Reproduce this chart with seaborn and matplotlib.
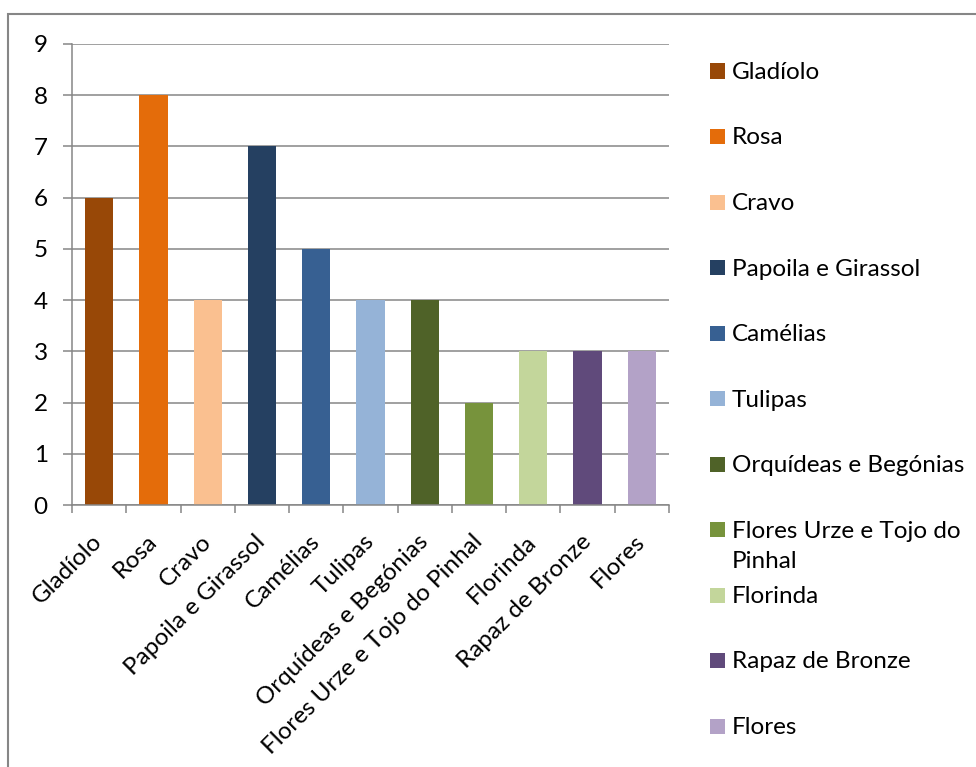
import matplotlib
matplotlib.use("Agg")
import matplotlib.pyplot as plt
import seaborn as sns
import numpy as np
import pandas as pd
from matplotlib.patches import Rectangle

categories = ["Gladíolo", "Rosa", "Cravo", "Papoila e Girassol", "Camélias", "Tulipas",
              "Orquídeas e Begónias", "Flores Urze e Tojo do Pinhal", "Florinda",
              "Rapaz de Bronze", "Flores"]
values = [6, 8, 4, 7, 5, 4, 4, 2, 3, 3, 3]
colors = ["#984807", "#E46C0A", "#FAC090", "#254061", "#376092", "#95B3D7",
          "#4F6228", "#77933C", "#C3D69B", "#604A7B", "#B3A2C7"]
legend_labels = ["Gladíolo", "Rosa", "Cravo", "Papoila e Girassol", "Camélias", "Tulipas",
                 "Orquídeas e Begónias", "Flores Urze e Tojo do\nPinhal", "Florinda",
                 "Rapaz de Bronze", "Flores"]
yticks = list(range(0, 10))

sns.set_theme(style="white")
plt.rcParams['font.family'] = ['Lato', 'DejaVu Sans']

W, H = 976, 767
fig = plt.figure(figsize=(W / 100, H / 100), dpi=100)
ax = fig.add_axes([72 / W, 1 - 505 / H, (669 - 72) / W, (505 - 44) / H])

df = pd.DataFrame({"cat": categories, "val": values})
sns.barplot(data=df, x="cat", y="val", hue="cat", palette=colors, width=0.52,
            legend=False, ax=ax, saturation=1, linewidth=0, edgecolor="none")

grid_c = "#868686"
ax.set_ylim(0, 9)
ax.set_xlim(-0.5, len(categories) - 0.5)
ax.set_yticks(yticks)
ax.yaxis.grid(True, color=grid_c, linewidth=1.1)
ax.set_axisbelow(True)
ax.set_xlabel("")
ax.set_ylabel("")
for s in ["top", "right"]:
    ax.spines[s].set_visible(False)
for s in ["left", "bottom"]:
    ax.spines[s].set_color(grid_c)
    ax.spines[s].set_linewidth(1.1)

fs = 17.5
ax.tick_params(axis="y", which="major", length=6.5, width=1.1, color=grid_c,
               pad=11, labelsize=fs, labelcolor="black", left=True, direction="out")
ax.set_xticks(range(len(categories)))
ax.set_xticklabels(categories, rotation=45, ha="right", va="center",
                   rotation_mode="anchor", fontsize=fs, color="black")
ax.tick_params(axis="x", which="major", length=0, pad=24)
ax.set_xticks(np.arange(-0.5, len(categories), 1), minor=True)
ax.tick_params(axis="x", which="minor", length=6, width=1.1, color=grid_c,
               bottom=True, direction="out")

# legend (laid out like the original: fixed row pitch, wrapped label keeps pitch)
y0, pitch = 71, 65.5
for i, (lab, col) in enumerate(zip(legend_labels, colors)):
    yc = y0 + pitch * i
    fig.patches.append(Rectangle((710 / W, 1 - (yc + 7.5) / H), 15 / W, 15 / H,
                                 transform=fig.transFigure, facecolor=col,
                                 edgecolor="none"))
    fig.text(732 / W, 1 - (yc - 9) / H, lab, ha="left", va="top", fontsize=fs,
             color="black", linespacing=1.55)

# outer chart border
fig.patches.append(Rectangle((8 / W, -0.1), 1.2, 1 - 14 / H + 0.1, transform=fig.transFigure,
                             fill=False, edgecolor=grid_c, linewidth=1.5))

fig.savefig("out.png", dpi=100)
